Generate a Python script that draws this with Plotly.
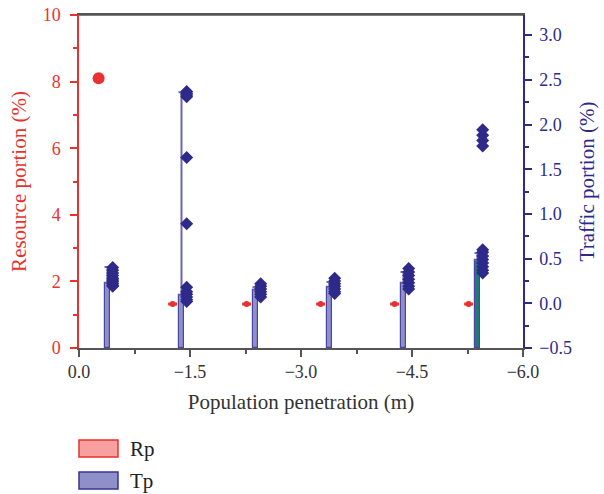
import plotly.graph_objects as go

# ---- data ----
penetration = [0, -1, -2, -3, -4, -5]
rp_values = [8.1, 1.32, 1.32, 1.32, 1.32, 1.32]          # Resource portion (%)
tp_bar = [0.227, 0.093, 0.149, 0.18, 0.227, 0.484]      # Traffic portion (%)
tp_whisker_top = [0.406, 2.36, 0.18, 0.238, 0.35, 0.563]
tp_points = [
    [0.40, 0.37, 0.34, 0.31, 0.28, 0.26, 0.24, 0.22, 0.20, 0.19],
    [2.37, 2.35, 2.33, 2.31, 1.63, 0.89, 0.18, 0.13, 0.10, 0.07, 0.04, 0.02],
    [0.22, 0.19, 0.16, 0.13, 0.10, 0.07],
    [0.28, 0.25, 0.22, 0.19, 0.16, 0.13, 0.11],
    [0.39, 0.35, 0.31, 0.27, 0.23, 0.19, 0.16],
    [0.60, 0.57, 0.53, 0.49, 0.45, 0.41, 0.37, 0.34, 1.94, 1.88, 1.82, 1.76],
]
x_ticks = [0, -1.5, -3, -4.5, -6]

RED = "#E8322F"
NAVY = "#2E2A8A"
BAR_FILL = "#8F8FCB"
BAR_LINE = "#4A46A0"
TEAL = "#1F7A78"
FONT = "Liberation Serif"

RIGHT_MIN = -0.5
fig = go.Figure()

# Tp bars (on right axis, from axis bottom)
bar_x = [p - 0.385 for p in penetration]
fig.add_trace(go.Bar(
    x=bar_x, y=[v - RIGHT_MIN for v in tp_bar], base=RIGHT_MIN,
    width=0.08, yaxis="y2",
    marker=dict(color=[BAR_FILL] * 5 + [TEAL], line=dict(color=BAR_LINE, width=1.2)),
    error_y=dict(type="data", symmetric=False,
                 array=[t - v for t, v in zip(tp_whisker_top, tp_bar)],
                 arrayminus=[0] * 6, color="#6A66B2", thickness=2, width=3),
    showlegend=False,
))

# Tp points
px, py = [], []
for p, pts in zip(penetration, tp_points):
    for v in pts:
        px.append(p - 0.455)
        py.append(v)
fig.add_trace(go.Scatter(
    x=px, y=py, yaxis="y2", mode="markers",
    marker=dict(symbol="diamond", size=10, color=NAVY, opacity=1, line=dict(width=0)),
    showlegend=False,
))

# Rp markers
rx = [p - 0.265 for p in penetration]
fig.add_trace(go.Scatter(
    x=rx, y=rp_values, mode="markers",
    marker=dict(symbol="circle", size=[12] + [6] * 5, color=RED, opacity=1,
                line=dict(width=0)),
    error_x=dict(type="data", array=[0] + [0.06] * 5, color=RED, thickness=3, width=0),
    showlegend=False,
))

fig.update_layout(
    width=604, height=494,
    margin=dict(l=79, r=81, t=15, b=146),
    plot_bgcolor="white", paper_bgcolor="white",
    font=dict(family=FONT, size=18),
    bargap=0,
    xaxis=dict(
        range=[0, -6], tickvals=x_ticks, tickformat=".1f", automargin=False,
        showgrid=False, zeroline=False,
        showline=True, linecolor="#555555", linewidth=1.5, mirror=True,
        ticks="outside", ticklen=7, tickcolor="#555555", tickwidth=1.5,
        minor=dict(dtick=0.75, ticklen=4, tickcolor="#555555", ticks="outside"),
        tickfont=dict(color="#333333", size=18),
        title=dict(text="Population penetration (m)", font=dict(color="#333333", size=21), standoff=13),
    ),
    yaxis=dict(
        range=[0, 10], dtick=2, showgrid=False, zeroline=False, automargin=False,
        showline=True, linecolor=RED, linewidth=1.5, ticklabeloverflow="allow",
        ticks="outside", ticklen=7, tickcolor=RED, tickwidth=1.5,
        minor=dict(dtick=1, ticklen=4, tickcolor=RED, ticks="outside"),
        tickfont=dict(color=RED, size=18), ticklabelstandoff=6,
        title=dict(text="Resource portion (%)", font=dict(color=RED, size=21), standoff=10),
    ),
    yaxis2=dict(
        range=[RIGHT_MIN, 3.225], dtick=0.5, tick0=0, tickformat=".1f",
        overlaying="y", side="right", showgrid=False, zeroline=False, automargin=False,
        showline=True, linecolor=NAVY, linewidth=1.5, ticklabeloverflow="allow",
        ticks="outside", ticklen=7, tickcolor=NAVY, tickwidth=1.5,
        minor=dict(dtick=0.25, ticklen=4, tickcolor=NAVY, ticks="outside"),
        tickfont=dict(color=NAVY, size=18), ticklabelstandoff=4,
        title=dict(text="Traffic portion (%)", font=dict(color=NAVY, size=21), standoff=8),
    ),
)

# top frame line
fig.add_shape(type="line", xref="paper", yref="paper", x0=0, x1=1, y0=1, y1=1,
              line=dict(color="#555555", width=1.5))

# custom legend
legend_items = [("Rp", "#F8A0A0", RED, 440), ("Tp", "#8F90C8", "#3A3591", 472)]
H = 333.0
for name, fill, line, top in legend_items:
    fig.add_shape(type="rect", xref="paper", yref="paper",
                  x0=0, x1=39 / 444, y0=(348 - top - 17) / H, y1=(348 - top) / H,
                  fillcolor=fill, line=dict(color=line, width=1.5))
    fig.add_annotation(xref="paper", yref="paper", x=49 / 444, y=(348 - top - 8.5) / H,
                       text=name, showarrow=False, xanchor="left", yanchor="middle",
                       font=dict(family=FONT, size=21, color="#222222"))

fig.write_html("out.html", config={"displayModeBar": False},
               post_script="document.body.style.margin='0';")
